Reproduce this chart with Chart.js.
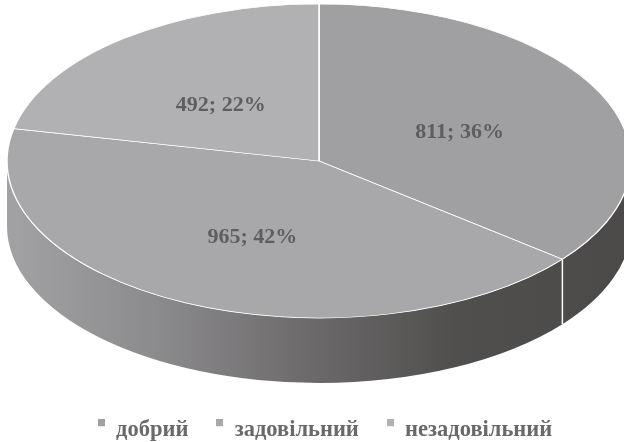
<!DOCTYPE html>
<html>
<head>
<meta charset="utf-8">
<script src="https://cdn.jsdelivr.net/npm/chart.js@4"></script>
<style>
  html, body { margin: 0; padding: 0; background: #fff; }
  canvas { display: block; }
</style>
</head>
<body>
<canvas id="pie" width="624" height="442"></canvas>
<script>
const categories = ["добрий", "задовільний", "незадовільний"];
const counts = [811, 965, 492];
const percents = [36, 42, 22];
const sliceColors = ["#a0a0a3", "#a8a8ab", "#b1b1b4"];

// the tilted disc: where its centre sits, how flat it is and how thick
const disc = { x: 319, y: 161, squash: 156.5 / 311, depth: 65 };

const labelFont = "bold 22px 'Liberation Serif'";
const labelColor = "#5f5d5f";
const labelDrop = 5;

function wallGradient(ctx, left, right) {
    const g = ctx.createLinearGradient(left, 0, right, 0);
    g.addColorStop(0, "#a2a2a4");
    g.addColorStop(0.25, "#8a898b");
    g.addColorStop(0.5, "#6b6869");
    g.addColorStop(0.72, "#514e4e");
    g.addColorStop(1, "#4c4949");
    return g;
}

// side of the disc, only the part facing the viewer (canvas angles 0..PI)
function drawWall(chart) {
    const ctx = chart.ctx;
    const arcs = chart.getDatasetMeta(0).data;
    const rx = arcs[0].outerRadius;
    const ry = rx * disc.squash;
    arcs.forEach(function (arc) {
        const TWO_PI = Math.PI * 2;
        let start = arc.startAngle % TWO_PI;
        let end = start + (arc.endAngle - arc.startAngle);
        if (start < -Math.PI) { start += TWO_PI; end += TWO_PI; }
        const from = Math.max(start, 0);
        const to = Math.min(end, Math.PI);
        if (to <= from) return;
        ctx.save();
        ctx.beginPath();
        ctx.ellipse(disc.x, disc.y, rx, ry, 0, from, to);
        ctx.ellipse(disc.x, disc.y + disc.depth, rx, ry, 0, to, from, true);
        ctx.closePath();
        ctx.fillStyle = wallGradient(ctx, disc.x - rx, disc.x + rx);
        ctx.fill();
        if (from > 0) {
            const px = disc.x + rx * Math.cos(from);
            const py = disc.y + ry * Math.sin(from);
            ctx.beginPath();
            ctx.moveTo(px, py);
            ctx.lineTo(px, py + disc.depth);
            ctx.strokeStyle = "#ffffff";
            ctx.lineWidth = 1.5;
            ctx.stroke();
        }
        ctx.restore();
    });
}

const tiltedDisc = {
    id: "tiltedDisc",
    beforeDatasetsDraw(chart) {
        drawWall(chart);
        const arc = chart.getDatasetMeta(0).data[0];
        const ctx = chart.ctx;
        ctx.save();
        ctx.translate(disc.x, disc.y);
        ctx.scale(1, disc.squash);
        ctx.translate(-arc.x, -arc.y);
    },
    afterDatasetsDraw(chart) {
        const ctx = chart.ctx;
        ctx.restore();
        ctx.save();
        ctx.font = labelFont;
        ctx.fillStyle = labelColor;
        ctx.textAlign = "center";
        ctx.textBaseline = "middle";
        chart.getDatasetMeta(0).data.forEach(function (arc, i) {
            const c = arc.getCenterPoint();
            const px = disc.x + (c.x - arc.x);
            const py = disc.y + (c.y - arc.y) * disc.squash + labelDrop;
            ctx.fillText(counts[i] + "; " + percents[i] + "%", px, py);
        });
        ctx.restore();
    }
};

// legend square sits above the text line, so the icon carries empty space below it
function legendMarker(color) {
    const c = document.createElement("canvas");
    c.width = 7;
    c.height = 21;
    const g = c.getContext("2d");
    g.fillStyle = color;
    g.fillRect(0, 0, 7, 7);
    return c;
}

new Chart(document.getElementById("pie"), {
    type: "pie",
    data: {
        labels: categories,
        datasets: [{
            data: counts,
            backgroundColor: sliceColors,
            borderColor: "#ffffff",
            borderWidth: 1.5,
            radius: 312,
            clip: false
        }]
    },
    options: {
        responsive: false,
        animation: false,
        layout: { padding: { left: 26, bottom: -9 } },
        plugins: {
            tooltip: { enabled: false },
            legend: {
                position: "bottom",
                labels: {
                    usePointStyle: true,
                    boxWidth: 7,
                    boxHeight: 7,
                    padding: 28,
                    color: "#6a686a",
                    font: { family: "'Liberation Serif'", weight: "bold", size: 22.5 },
                    generateLabels(chart) {
                        const items = Chart.overrides.pie.plugins.legend.labels.generateLabels(chart);
                        items.forEach(function (item, i) {
                            item.pointStyle = legendMarker(sliceColors[i]);
                        });
                        return items;
                    }
                }
            }
        }
    },
    plugins: [tiltedDisc]
});
</script>
</body>
</html>
